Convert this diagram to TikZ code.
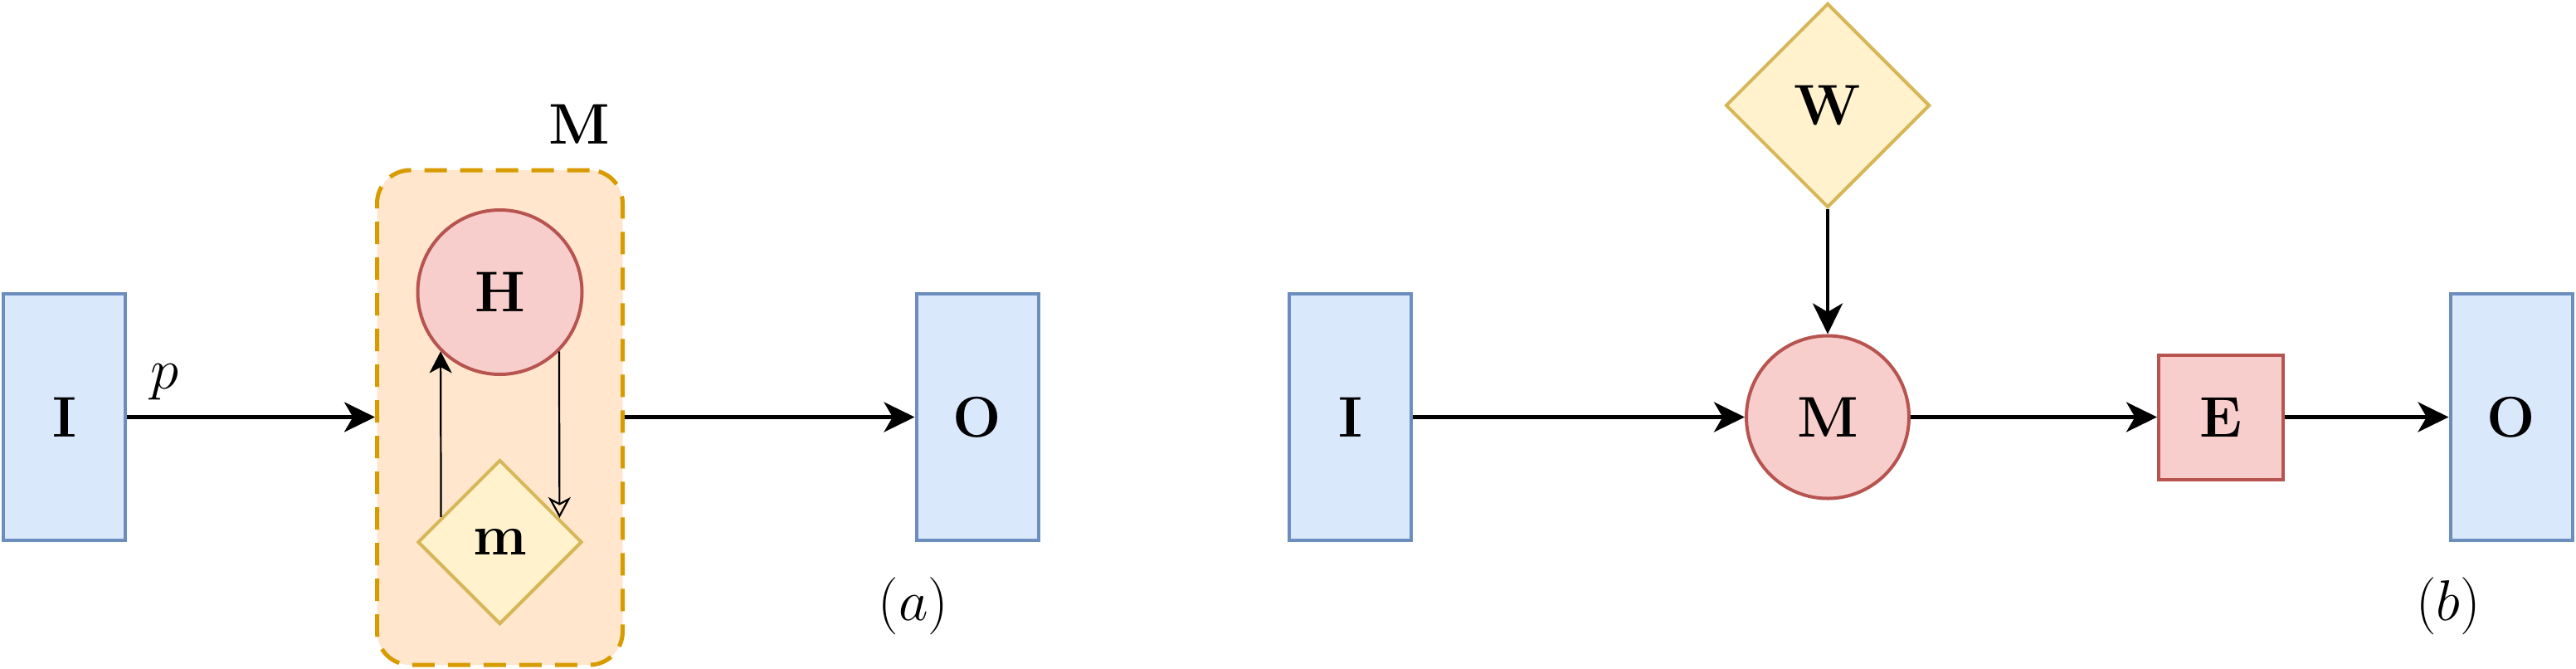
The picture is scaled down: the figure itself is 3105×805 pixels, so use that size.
\documentclass[tikz,border=0pt]{standalone}
\usetikzlibrary{arrows.meta,shapes.geometric}
\definecolor{bluefill}{HTML}{DAE8FC}
\definecolor{bluedraw}{HTML}{6C8EBF}
\definecolor{redfill}{HTML}{F8CECC}
\definecolor{reddraw}{HTML}{B85450}
\definecolor{yelfill}{HTML}{FFF2CC}
\definecolor{yeldraw}{HTML}{D6B656}
\definecolor{orfill}{HTML}{FFE6CC}
\definecolor{ordraw}{HTML}{D79B00}
\begin{document}
\begin{tikzpicture}[x=0.25pt,y=-0.25pt,
  every node/.style={font=\fontsize{17.5}{21}\selectfont},
  iobox/.style={draw=bluedraw,fill=bluefill,line width=1pt,minimum width=36.75pt,minimum height=74.25pt,inner sep=0pt},
  redcirc/.style={circle,draw=reddraw,fill=redfill,line width=1pt,inner sep=0pt},
  redbox/.style={draw=reddraw,fill=redfill,line width=1pt,minimum size=37.5pt,inner sep=0pt},
  yeldiam/.style={diamond,aspect=1,draw=yeldraw,fill=yelfill,line width=1pt,inner sep=0pt},
  groupbox/.style={draw=ordraw,fill=orfill,dash pattern=on 6.75pt off 4pt,line width=1.25pt,rounded corners=10pt,minimum width=74pt,minimum height=149pt,inner sep=0pt},
  bigarrow/.style={line width=1.05pt,-{Stealth[length=9.25pt,width=9pt,inset=2.6pt]}},
  thinfilled/.style={line width=0.55pt,-{Stealth[length=6.5pt,width=6.75pt,inset=1.8pt]}},
  thinopen/.style={line width=0.55pt,-{Stealth[open,length=6.25pt,width=6.75pt,inset=1.8pt]}}
]
\useasboundingbox (0,0) rectangle (3105,805);
% ---------- (a) ----------
\node[iobox] (I1) at (77.5,502.5) {$\mathbf{I}$};
\node[groupbox] (mbox) at (602.5,503) {};
\node (Mlab) at (698,150) {$\mathbf{M}$};
\node[redcirc,minimum size=49.5pt] (H) at (602.5,352) {$\mathbf{H}$};
\node[yeldiam,minimum width=49.5pt,minimum height=49.5pt] (m) at (602.5,653) {$\mathbf{m}$};
\node[iobox] (O1) at (1178,502.5) {$\mathbf{O}$};
\node (p) at (198,460) {$p$};
\node (alab) at (1101,730) {$(a)$};
\draw[bigarrow] (I1.east) -- (I1.east -| mbox.west);
\draw[bigarrow] (mbox.east |- O1.west) -- (O1.west);
\draw[thinfilled] (m.157.5) -- (H.225);
\draw[thinopen] (H.315) -- (m.22.5);
% ---------- (b) ----------
\node[iobox] (I2) at (1627.5,502.5) {$\mathbf{I}$};
\node[yeldiam,minimum width=61.5pt,minimum height=61.5pt] (W) at (2203,127) {$\mathbf{W}$};
\node[redcirc,minimum size=49pt] (M) at (2203,502.5) {$\mathbf{M}$};
\node[redbox] (E) at (2677,502.5) {$\mathbf{E}$};
\node[iobox] (O2) at (3027,502.5) {$\mathbf{O}$};
\node (blab) at (2951,730) {$(b)$};
\draw[bigarrow] (I2) -- (M);
\draw[bigarrow] (M) -- (E);
\draw[bigarrow] (E) -- (O2);
\draw[bigarrow] (W) -- (M);
\end{tikzpicture}
\end{document}
